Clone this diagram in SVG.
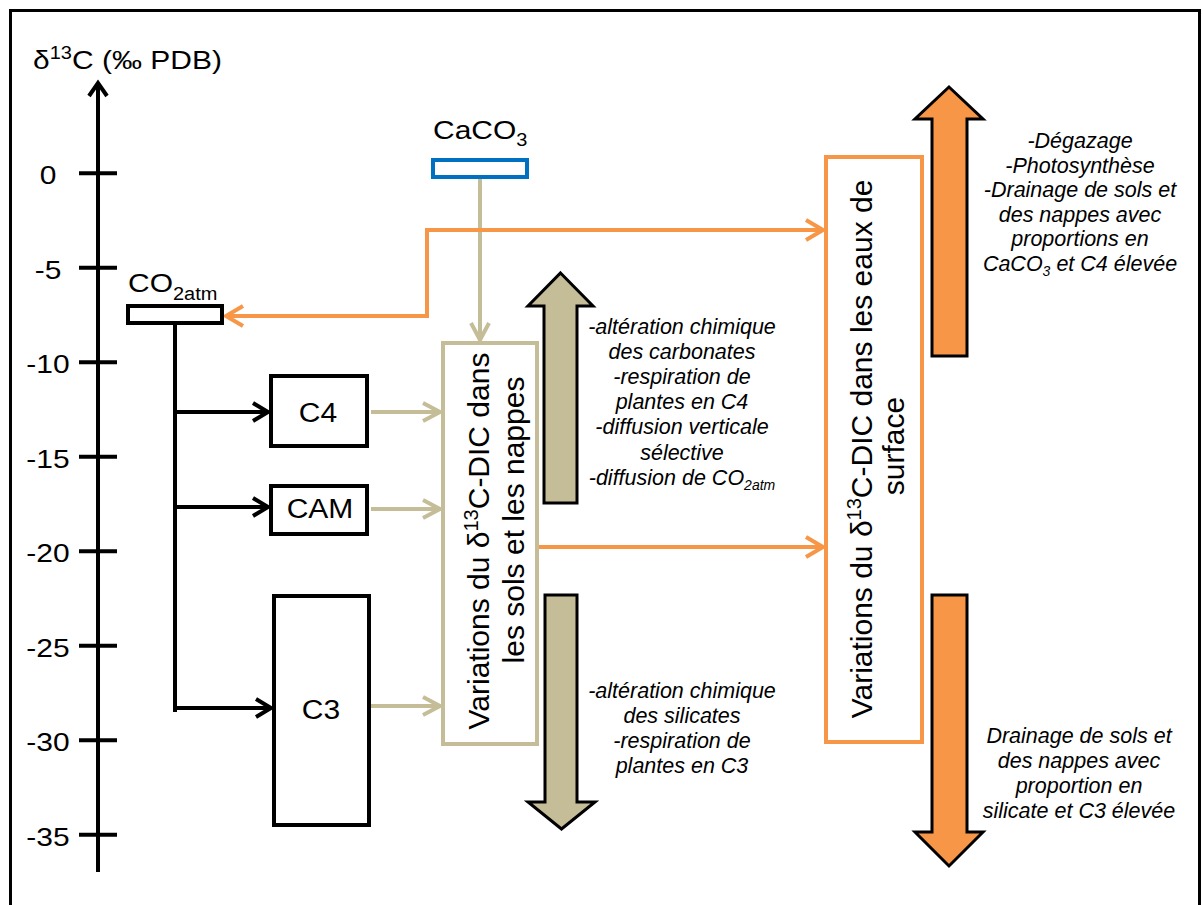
<svg xmlns="http://www.w3.org/2000/svg" width="1203" height="905" viewBox="0 0 1203 905">
<defs>
<style>
.lbl{font-family:"Liberation Sans",Arial,sans-serif;font-size:30px;fill:#000}
.it{font-family:"Liberation Sans",Arial,sans-serif;font-size:21.5px;font-style:italic;fill:#000;text-anchor:middle}
.box{fill:#fff;stroke-width:4}
.blk{stroke:#000}
.tan{stroke:#C4BD97}
.org{stroke:#F79646}
.big{stroke:#000;stroke-width:3;stroke-linejoin:miter}
.cb{fill:none;stroke:#000;stroke-width:4}
.ct{fill:none;stroke:#C4BD97;stroke-width:4}
.co{fill:none;stroke:#F79646;stroke-width:4}
</style>
<marker id="mb" markerUnits="userSpaceOnUse" markerWidth="40" markerHeight="40" viewBox="-20 -20 40 40" refX="0" refY="0" orient="auto" overflow="visible"><path d="M-15,-9 L0,0 L-15,9" fill="none" stroke="#000" stroke-width="4"/></marker>
<marker id="mt" markerUnits="userSpaceOnUse" markerWidth="40" markerHeight="40" viewBox="-20 -20 40 40" refX="0" refY="0" orient="auto" overflow="visible"><path d="M-17,-9 L0,0 L-17,9" fill="none" stroke="#C4BD97" stroke-width="4"/></marker>
<marker id="mo" markerUnits="userSpaceOnUse" markerWidth="40" markerHeight="40" viewBox="-20 -20 40 40" refX="0" refY="0" orient="auto-start-reverse" overflow="visible"><path d="M-17,-10 L0,0 L-17,10" fill="none" stroke="#F79646" stroke-width="4"/></marker>
</defs>
<rect x="0" y="0" width="1203" height="905" fill="#fff"/>
<rect x="10.5" y="10.5" width="1189" height="910" fill="none" stroke="#000" stroke-width="3"/>

<g id="axis">
<path d="M98,872 V85" fill="none" stroke="#000" stroke-width="4"/>
<path d="M89,96 L98,83 L107,96" fill="none" stroke="#000" stroke-width="4"/>
<path d="M79,173.3 H117 M79,267.8 H117 M79,362.3 H117 M79,456.8 H117 M79,551.3 H117 M79,645.8 H117 M79,740.3 H117 M79,834.8 H117" stroke="#000" stroke-width="4"/>
<g class="lbl" text-anchor="middle">
<text transform="translate(48,184) scale(1,0.88)">0</text>
<text transform="translate(48,279) scale(1,0.88)">-5</text>
<text transform="translate(48,373) scale(1,0.88)">-10</text>
<text transform="translate(48,468) scale(1,0.88)">-15</text>
<text transform="translate(48,562) scale(1,0.88)">-20</text>
<text transform="translate(48,657) scale(1,0.88)">-25</text>
<text transform="translate(48,751) scale(1,0.88)">-30</text>
<text transform="translate(48,846) scale(1,0.88)">-35</text>
</g>
<text class="lbl" transform="translate(33,69) scale(1,0.88)">δ<tspan font-size="20" dy="-11">13</tspan><tspan dy="11">C (‰ PDB)</tspan></text>
</g>

<g id="connectors">
<path class="cb" d="M175,323 V712"/>
<path class="cb" d="M173,412 H268" marker-end="url(#mb)"/>
<path class="cb" d="M173,507 H268" marker-end="url(#mb)"/>
<path class="cb" d="M173,708 H271" marker-end="url(#mb)"/>
<path class="ct" d="M480,179 V340" marker-end="url(#mt)"/>
<path class="ct" d="M371,412 H440" marker-end="url(#mt)"/>
<path class="ct" d="M371,509 H440" marker-end="url(#mt)"/>
<path class="ct" d="M371,706 H440" marker-end="url(#mt)"/>
<path class="co" d="M226,316 H427 V230 H823" marker-start="url(#mo)" marker-end="url(#mo)"/>
<path class="co" d="M539,547 H823" marker-end="url(#mo)"/>
</g>

<g id="co2atm">
<rect class="box blk" x="128" y="306" width="94" height="17"/>
<text class="lbl" transform="translate(128,292) scale(1,0.88)">CO<tspan font-size="20" dy="9">2atm</tspan></text>
</g>

<g id="caco3">
<rect class="box" stroke="#0070C0" x="433" y="160" width="94" height="17"/>
<text class="lbl" transform="translate(433,139) scale(1,0.88)">CaCO<tspan font-size="20" dy="8">3</tspan></text>
</g>

<g id="c4">
<rect class="box blk" x="271" y="376" width="96" height="70"/>
<text class="lbl" text-anchor="middle" transform="translate(318,422) scale(1,0.92)">C4</text>
</g>
<g id="cam">
<rect class="box blk" x="271" y="486" width="96" height="48"/>
<text class="lbl" text-anchor="middle" transform="translate(320,518) scale(1,0.92)">CAM</text>
</g>
<g id="c3">
<rect class="box blk" x="274" y="596" width="95" height="229"/>
<text class="lbl" text-anchor="middle" transform="translate(321,719) scale(1,0.92)">C3</text>
</g>

<g id="dic-sols">
<rect class="box tan" x="443" y="343" width="94" height="401"/>
<text class="lbl" text-anchor="middle" transform="translate(489,541) rotate(-90)">Variations du δ<tspan font-size="20" dy="-11">13</tspan><tspan dy="11">C-DIC dans</tspan></text>
<text class="lbl" text-anchor="middle" transform="translate(524,520) rotate(-90)">les sols et les nappes</text>
</g>

<g id="dic-surface">
<rect class="box org" x="826" y="157" width="96" height="585"/>
<text class="lbl" text-anchor="middle" transform="translate(872,449) rotate(-90)">Variations du δ<tspan font-size="20" dy="-11">13</tspan><tspan dy="11">C-DIC dans les eaux de</tspan></text>
<text class="lbl" text-anchor="middle" transform="translate(904,446) rotate(-90)">surface</text>
</g>

<g id="tan-up">
<polygon class="big" fill="#C4BD97" points="560.5,273 593,306 577,306 577,503 544,503 544,306 528,306"/>
<g class="it">
<text x="682" y="334">-altération chimique</text>
<text x="682" y="359">des carbonates</text>
<text x="682" y="384">-respiration de</text>
<text x="682" y="409">plantes en C4</text>
<text x="682" y="434">-diffusion verticale</text>
<text x="682" y="460">sélective</text>
<text x="682" y="485">-diffusion de CO<tspan font-size="14" dy="5">2atm</tspan></text>
</g>
</g>

<g id="tan-down">
<polygon class="big" fill="#C4BD97" points="545,595 577,595 577,802 595,802 561.5,829 528,802 545,802"/>
<g class="it">
<text x="682" y="698">-altération chimique</text>
<text x="682" y="723">des silicates</text>
<text x="682" y="748">-respiration de</text>
<text x="682" y="773">plantes en C3</text>
</g>
</g>

<g id="orange-up">
<polygon class="big" fill="#F79646" points="949,87 983,119 967,119 967,356 932,356 932,119 915,119"/>
<g class="it">
<text x="1080" y="148">-Dégazage</text>
<text x="1080" y="173">-Photosynthèse</text>
<text x="1080" y="197">-Drainage de sols et</text>
<text x="1080" y="222">des nappes avec</text>
<text x="1080" y="246">proportions en</text>
<text x="1080" y="271">CaCO<tspan font-size="14" dy="5">3</tspan><tspan dy="-5"> et C4 élevée</tspan></text>
</g>
</g>

<g id="orange-down">
<polygon class="big" fill="#F79646" points="932,595 967,595 967,832 983,832 949,866 915,832 932,832"/>
<g class="it">
<text x="1079" y="743">Drainage de sols et</text>
<text x="1079" y="768">des nappes avec</text>
<text x="1079" y="793">proportion en</text>
<text x="1079" y="818">silicate et C3 élevée</text>
</g>
</g>
</svg>
